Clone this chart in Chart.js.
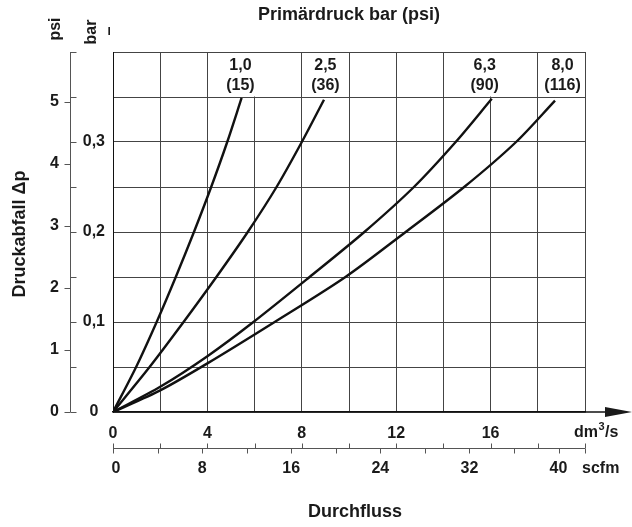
<!DOCTYPE html>
<html>
<head>
<meta charset="utf-8">
<script src="https://cdn.jsdelivr.net/npm/chart.js@4.4.0/dist/chart.umd.min.js"></script>
<style>
  html, body { margin: 0; padding: 0; background: #fff; }
</style>
</head>
<body>
<canvas id="flowChart" width="632" height="527"></canvas>
<script>
// primary pressure curves: flow (dm3/s) vs pressure drop (bar)
const pressureBar = ["1,0", "2,5", "6,3", "8,0"];
const pressurePsi = ["(15)", "(36)", "(90)", "(116)"];

const flow10 = [0, 0.98, 1.85, 2.66, 3.43, 4.16, 4.84, 5.45];
const drop10 = [0, 0.05, 0.10, 0.15, 0.20, 0.25, 0.30, 0.349];

const flow25 = [0, 1.55, 2.99, 4.38, 5.71, 6.93, 8.0, 8.94];
const drop25 = [0, 0.05, 0.10, 0.15, 0.20, 0.25, 0.30, 0.347];

const flow63 = [0, 2.0, 4.0, 5.95, 8.33, 10.65, 12.75, 14.52, 16.05];
const drop63 = [0, 0.028, 0.062, 0.10, 0.15, 0.20, 0.25, 0.30, 0.348];

const flow80 = [0, 2.0, 4.0, 6.85, 9.85, 12.4, 14.88, 17.08, 18.73];
const drop80 = [0, 0.024, 0.054, 0.10, 0.15, 0.20, 0.25, 0.30, 0.346];

const barLabels = [0, 0.1, 0.2, 0.3];
const psiTicks = [0, 1, 2, 3, 4, 5];
const flowTicks = [0, 4, 8, 12, 16];
const scfmTicks = [0, 8, 16, 24, 32, 40];

const PSI_PER_BAR = 14.5038;
const SCFM_PER_DM3S = 2.1189;
const FONT = "'Liberation Sans', Arial, Helvetica, sans-serif";
const INK = "#1a1a1a";

const toPoints = (xs, ys) => xs.map((x, i) => ({ x, y: ys[i] }));
const series = [
  toPoints(flow10, drop10),
  toPoints(flow25, drop25),
  toPoints(flow63, drop63),
  toPoints(flow80, drop80),
];
// where the pressure captions sit above each curve (dm3/s)
const captionAt = [5.4, 9.0, 15.75, 19.05];

const extras = {
  id: "extras",
  beforeDatasetsDraw(chart) {
    const { ctx, scales: { x, y } } = chart;
    // the top row has no grid line at 6 and 16 (room for captions)
    ctx.save();
    ctx.fillStyle = "#fff";
    const top = y.getPixelForValue(0.4);
    const row = y.getPixelForValue(0.35);
    [6, 16].forEach((v) => {
      const px = x.getPixelForValue(v);
      ctx.fillRect(px - 2, top + 1, 4, row - top - 1.5);
    });
    ctx.restore();
  },
  afterDraw(chart) {
    const { ctx, scales: { x, y } } = chart;
    const top = y.getPixelForValue(0.4);
    const bottom = y.getPixelForValue(0);
    ctx.save();
    ctx.fillStyle = INK;
    ctx.strokeStyle = "#555";
    ctx.lineWidth = 1;

    // psi / bar side axis
    const axisX = 70.5;
    ctx.beginPath();
    ctx.moveTo(axisX, top);
    ctx.lineTo(axisX, bottom);
    for (let v = 0; v <= 0.4001; v += 0.05) {
      const py = Math.round(y.getPixelForValue(v)) + 0.5;
      ctx.moveTo(axisX, py);
      ctx.lineTo(axisX + 6, py);
    }
    psiTicks.forEach((p) => {
      const py = Math.round(y.getPixelForValue(p / PSI_PER_BAR)) + 0.5;
      ctx.moveTo(axisX - 6, py);
      ctx.lineTo(axisX, py);
    });
    ctx.stroke();

    ctx.font = `bold 16px ${FONT}`;
    ctx.textAlign = "right";
    ctx.textBaseline = "middle";
    psiTicks.forEach((p) => {
      ctx.fillText(String(p), 59, y.getPixelForValue(p / PSI_PER_BAR));
    });

    // rotated unit captions
    const rotated = (text, cx, cy, font) => {
      ctx.save();
      ctx.translate(cx, cy);
      ctx.rotate(-Math.PI / 2);
      ctx.font = font;
      ctx.textAlign = "center";
      ctx.textBaseline = "middle";
      ctx.fillText(text, 0, 0);
      ctx.restore();
    };
    rotated("psi", 56, 29, `bold 16px ${FONT}`);
    rotated("bar", 92, 32, `bold 16px ${FONT}`);
    rotated("–", 110, 31, `bold 16px ${FONT}`);
    rotated("Druckabfall Δp", 20, 234, `bold 18px ${FONT}`);

    ctx.textAlign = "center";
    ctx.font = `bold 18px ${FONT}`;
    ctx.fillText("Primärdruck bar (psi)", 349, 15);
    ctx.fillText("Durchfluss", 355, 512);

    // curve captions
    ctx.font = `bold 16px ${FONT}`;
    pressureBar.forEach((label, i) => {
      const px = x.getPixelForValue(captionAt[i]);
      ctx.fillText(label, px, 66);
      ctx.fillText(pressurePsi[i], px, 86);
    });

    // arrow on the flow axis
    const right = x.getPixelForValue(20);
    ctx.strokeStyle = "#111";
    ctx.lineWidth = 1.5;
    ctx.beginPath();
    ctx.moveTo(right, bottom);
    ctx.lineTo(610, bottom);
    ctx.stroke();
    ctx.beginPath();
    ctx.moveTo(605, bottom - 5);
    ctx.lineTo(632, bottom);
    ctx.lineTo(605, bottom + 5);
    ctx.closePath();
    ctx.fill();

    // dm3/s unit with superscript
    ctx.textAlign = "left";
    let ux = 574;
    ctx.fillText("dm", ux, 433);
    ux += ctx.measureText("dm").width + 0.5;
    ctx.font = `bold 11px ${FONT}`;
    ctx.fillText("3", ux, 427);
    ux += ctx.measureText("3").width + 0.5;
    ctx.font = `bold 16px ${FONT}`;
    ctx.fillText("/s", ux, 433);

    // scfm axis
    const sy = 448.5;
    ctx.strokeStyle = "#555";
    ctx.lineWidth = 1;
    ctx.beginPath();
    ctx.moveTo(x.getPixelForValue(0), sy);
    ctx.lineTo(right, sy);
    for (let v = 0; v <= 20; v += 2) {
      const px = Math.round(x.getPixelForValue(v)) + 0.5;
      ctx.moveTo(px, sy - 5);
      ctx.lineTo(px, sy);
    }
    for (let s = 0; s <= 40; s += 4) {
      const px = Math.round(x.getPixelForValue(s / SCFM_PER_DM3S)) + 0.5;
      ctx.moveTo(px, sy);
      ctx.lineTo(px, sy + 5);
    }
    const endX = Math.round(right) + 0.5;
    ctx.moveTo(endX, sy);
    ctx.lineTo(endX, sy + 5);
    ctx.stroke();

    ctx.textAlign = "center";
    scfmTicks.forEach((s) => {
      const px = x.getPixelForValue(s / SCFM_PER_DM3S) + (s === 0 ? 3 : 0);
      ctx.fillText(String(s), px, 469);
    });
    ctx.textAlign = "left";
    ctx.fillText("scfm", 582, 469);
    ctx.restore();
  },
};

new Chart(document.getElementById("flowChart"), {
  type: "scatter",
  data: {
    datasets: series.map((data, i) => ({
      label: pressureBar[i],
      data,
      showLine: true,
      borderColor: "#111",
      borderWidth: 2.4,
      pointRadius: 0,
      tension: 0.3,
    })),
  },
  options: {
    responsive: false,
    animation: false,
    layout: { padding: { left: 70, right: 47, top: 52, bottom: 0 } },
    plugins: { legend: { display: false }, tooltip: { enabled: false } },
    scales: {
      x: {
        type: "linear",
        min: 0,
        max: 20,
        afterFit: (scale) => { scale.height = 115; },
        afterBuildTicks: (scale) => {
          scale.ticks = Array.from({ length: 11 }, (_, i) => ({ value: i * 2 }));
        },
        grid: { color: "#444", lineWidth: 1, drawTicks: false },
        border: { color: "#111", width: 1.5 },
        ticks: {
          color: INK,
          font: { family: FONT, size: 16, weight: "bold" },
          padding: 12,
          maxRotation: 0,
          callback: (v) => (flowTicks.includes(v) ? String(v) : ""),
        },
      },
      y: {
        type: "linear",
        min: 0,
        max: 0.4,
        afterFit: (scale) => { scale.width = 43; },
        afterBuildTicks: (scale) => {
          scale.ticks = Array.from({ length: 9 }, (_, i) => ({ value: i * 0.05 }));
        },
        grid: { color: "#444", lineWidth: 1, drawTicks: false },
        border: { color: "#111", width: 1 },
        ticks: {
          color: INK,
          font: { family: FONT, size: 16, weight: "bold" },
          padding: 8,
          crossAlign: "center",
          callback: (v) => {
            const hit = barLabels.find((b) => Math.abs(b - v) < 1e-6);
            if (hit === undefined) return "";
            return hit === 0 ? "0" : hit.toFixed(1).replace(".", ",");
          },
        },
      },
    },
  },
  plugins: [extras],
});
</script>
</body>
</html>
